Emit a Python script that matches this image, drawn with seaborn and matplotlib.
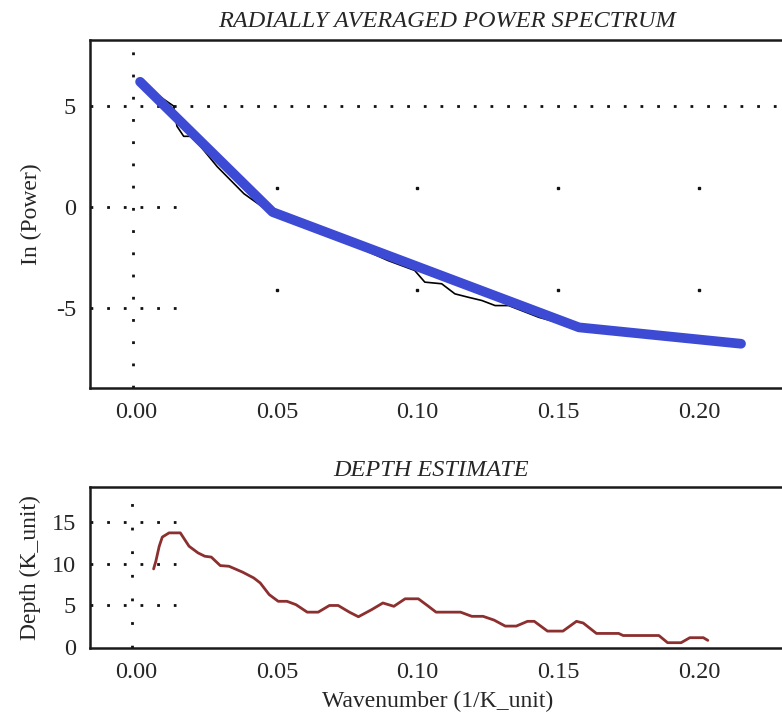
import numpy as np
import pandas as pd
import matplotlib
matplotlib.use("Agg")
import matplotlib.pyplot as plt
import seaborn as sns

# ---------------- data ----------------
# observed spectrum (thin black line)
spec_k = [0.0014, 0.0086, 0.0133, 0.0145, 0.0169, 0.0193, 0.0229, 0.0288, 0.0383,
          0.0485, 0.060, 0.075, 0.0895, 0.099, 0.1026, 0.1086, 0.1133, 0.1181,
          0.1229, 0.1276, 0.1324, 0.1431, 0.157, 0.1836, 0.215]
spec_lnp = [6.2, 5.45, 5.0, 4.0, 3.5, 3.5, 3.0, 2.0, 0.66,
            -0.35, -0.95, -1.75, -2.65, -3.14, -3.72, -3.8, -4.3, -4.47,
            -4.63, -4.88, -4.88, -5.46, -6.0, -6.42, -6.8]
# fitted segments (thick blue line)
fit_k = [0.0014, 0.0485, 0.1574, 0.215]
fit_lnp = [6.2, -0.25, -5.96, -6.77]

# depth estimate (dark red line)
depth_k = [0.0062, 0.0070, 0.0082, 0.0093, 0.0117, 0.0157, 0.0188, 0.0220, 0.0244,
           0.0267, 0.0299, 0.0330, 0.0378, 0.0418, 0.0441, 0.0473, 0.0505, 0.0536,
           0.0568, 0.0608, 0.0647, 0.0687, 0.0718, 0.0758, 0.0790, 0.0837, 0.0877,
           0.0916, 0.0956, 0.1003, 0.1035, 0.1066, 0.1153, 0.1193, 0.1233, 0.1272,
           0.1312, 0.1351, 0.1391, 0.1415, 0.1462, 0.1517, 0.1565, 0.1589, 0.1636,
           0.1715, 0.1731, 0.1858, 0.1889, 0.1937, 0.1968, 0.2016, 0.2032]
depth_val = [9.38, 10.3, 12.1, 13.2, 13.7, 13.7, 12.1, 11.3, 10.9,
             10.8, 9.78, 9.7, 9.0, 8.3, 7.7, 6.3, 5.5, 5.5,
             5.1, 4.2, 4.2, 5.0, 5.0, 4.2, 3.65, 4.5, 5.3,
             4.9, 5.8, 5.8, 5.0, 4.2, 4.2, 3.7, 3.7, 3.25,
             2.53, 2.53, 3.1, 3.1, 1.93, 1.93, 3.1, 2.9, 1.65,
             1.65, 1.4, 1.4, 0.54, 0.54, 1.14, 1.14, 0.82]

xticks = [0.00, 0.05, 0.10, 0.15, 0.20]
xtick_labels = ["0.00", "0.05", "0.10", "0.15", "0.20"]
top_yticks = [-5, 0, 5]
bot_yticks = [0, 5, 10, 15]
# loose grid dots seen in the upper panel
dot_k = [0.05, 0.10, 0.15, 0.20]
dot_lnp = [0.93, -4.1]

spec = pd.DataFrame({"k": spec_k, "lnp": spec_lnp})
fit = pd.DataFrame({"k": fit_k, "lnp": fit_lnp})
depth = pd.DataFrame({"k": depth_k, "d": depth_val})

# ---------------- style ----------------
sns.set_style("white")
plt.rcParams["font.family"] = ["Liberation Serif", "DejaVu Serif"]
plt.rcParams["font.size"] = 17

fig = plt.figure(figsize=(7.82, 7.19), dpi=100)
ax0 = fig.add_axes([0.1151, 0.4604, 0.889, 0.484])
ax1 = fig.add_axes([0.1151, 0.0987, 0.889, 0.224])

xlim = (-0.0164, 0.2307)
dot_kw = dict(color="#111111", linewidth=2.0)

# ---- upper panel: power spectrum ----
ax0.axvline(-0.001, linestyle=(0, (1, 7)), **dot_kw)
ax0.axhline(5, linestyle=(0, (1, 5)), **dot_kw)
for yv in [0, -5]:
    ax0.plot([xlim[0], 0.0145], [yv, yv], linestyle=(0, (1, 5)), **dot_kw)
for yv in dot_lnp:
    ax0.plot(dot_k, [yv] * len(dot_k), linestyle="none", marker="s",
             markersize=1.6, color="#111111")

sns.lineplot(data=spec, x="k", y="lnp", ax=ax0, color="black", linewidth=1.2,
             sort=False, estimator=None)
sns.lineplot(data=fit, x="k", y="lnp", ax=ax0, color="#3d4bd4", linewidth=7,
             sort=False, estimator=None, solid_capstyle="round")

ax0.set_xlim(*xlim)
ax0.set_ylim(-8.96, 8.27)
ax0.set_yticks(top_yticks)
ax0.set_yticklabels([str(v) for v in top_yticks])
ax0.set_xticks(xticks)
ax0.set_xticklabels(xtick_labels)
ax0.set_xlabel("")
ax0.set_ylabel("In (Power)", labelpad=10)
ax0.set_title("RADIALLY AVERAGED POWER SPECTRUM", fontstyle="italic",
              fontsize=17.5, x=0.513, pad=9)

# ---- lower panel: depth estimate ----
ax1.axvline(-0.0013, linestyle=(0, (1, 7.5)), **dot_kw)
for yv in [5, 10, 15]:
    ax1.plot([xlim[0], 0.0141], [yv, yv], linestyle=(0, (1, 5)), **dot_kw)

sns.lineplot(data=depth, x="k", y="d", ax=ax1, color="#8c2f2f", linewidth=2,
             sort=False, estimator=None)

ax1.set_xlim(*xlim)
ax1.set_ylim(-0.1, 19.2)
ax1.set_yticks(bot_yticks)
ax1.set_yticklabels([str(v) for v in bot_yticks])
ax1.set_xticks(xticks)
ax1.set_xticklabels(xtick_labels)
ax1.set_xlabel("Wavenumber (1/K_unit)", labelpad=6)
ax1.set_ylabel("Depth (K_unit)", labelpad=8)
ax1.set_title("DEPTH ESTIMATE", fontstyle="italic", fontsize=17.5, x=0.49, pad=8)

for ax in [ax0, ax1]:
    ax.tick_params(axis="both", length=0, labelsize=17.5, pad=10)
    for side in ["left", "bottom", "top"]:
        ax.spines[side].set_linewidth(1.8)
        ax.spines[side].set_color("#1a1a1a")
    ax.spines["right"].set_visible(False)

plt.savefig("out.png", dpi=100)
